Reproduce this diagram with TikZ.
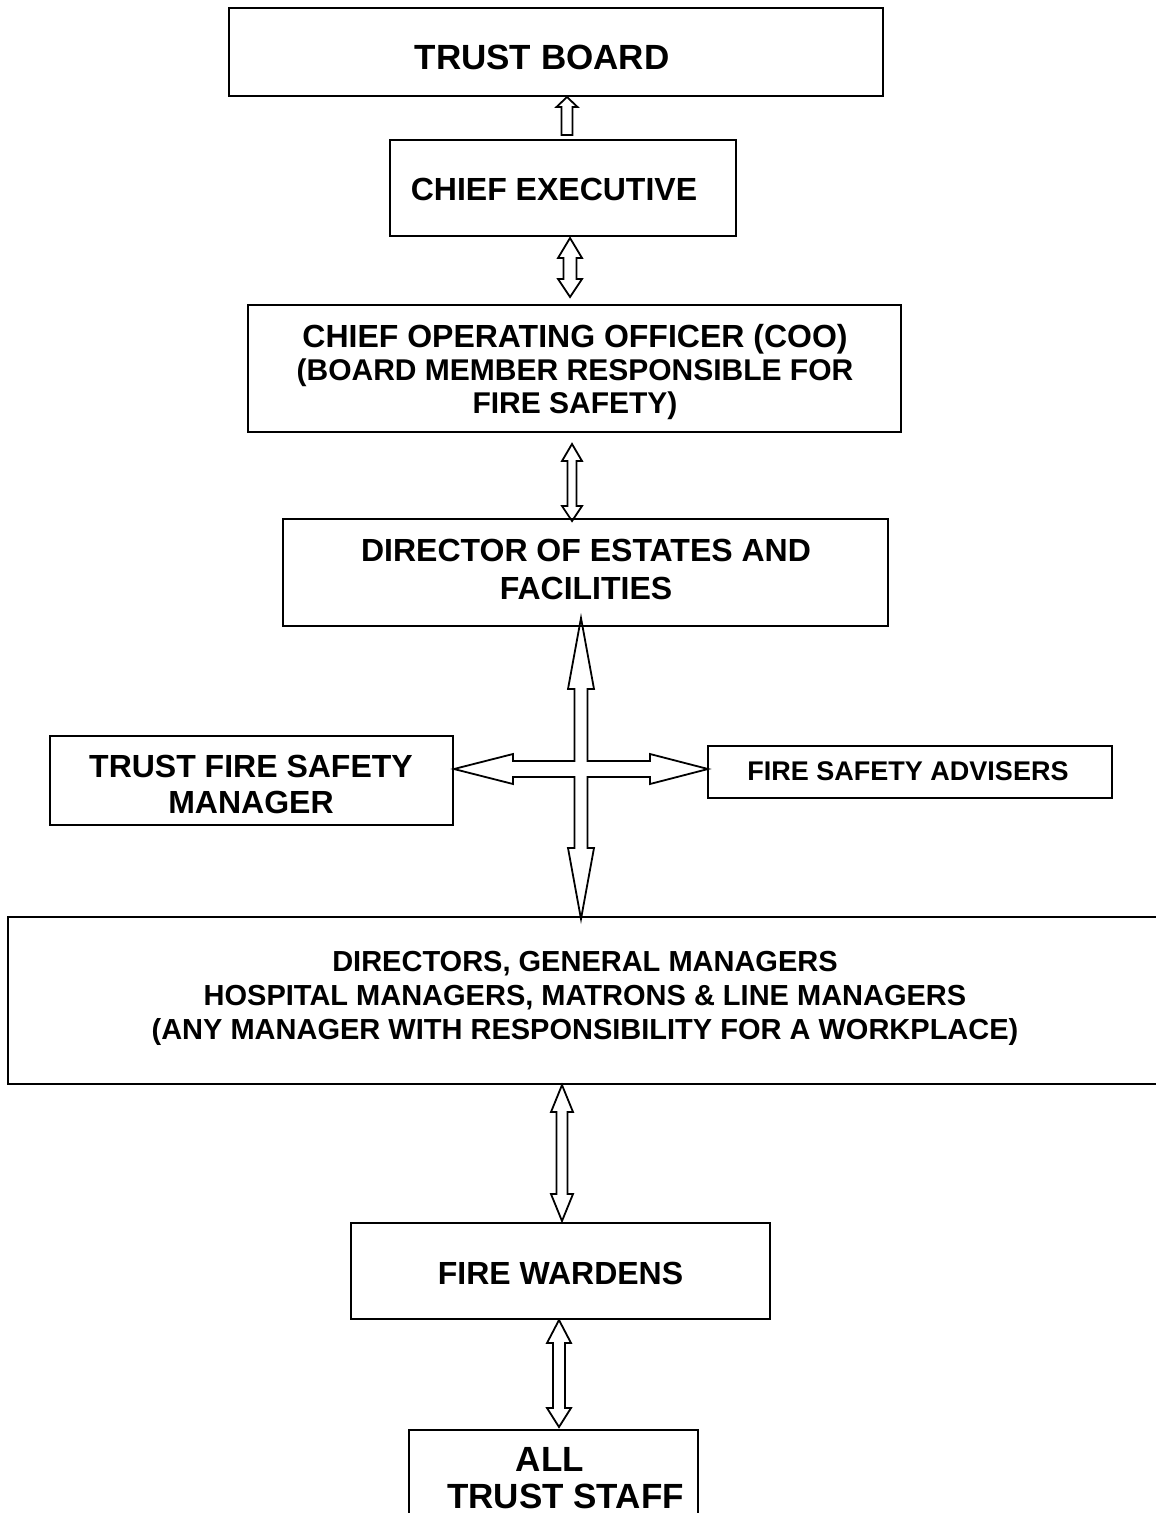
\documentclass[tikz,border=0pt]{standalone}
\usepackage{fontspec}
\setmainfont{Liberation Sans}
\usetikzlibrary{calc}
\tikzset{
  box/.style={draw, line width=2pt, inner sep=0pt, rectangle},
  lbl/.style={inner sep=0pt, align=center},
  arr/.style={draw, line width=1.8pt, line join=miter},
}
\newcommand\myfs[2]{\fontsize{#1}{#2}\selectfont\bfseries}
% vertical double block arrow: top tip, bottom tip, shaft half, head half, top head len, bottom head len
\newcommand\myvdbl[6]{%
  \draw[arr] let \p1=(#1), \p2=(#2) in
    (\x1,\y1) -- (\x1+#4pt,\y1-#5pt) -- (\x1+#3pt,\y1-#5pt) -- (\x1+#3pt,\y2+#6pt)
    -- (\x1+#4pt,\y2+#6pt) -- (\x1,\y2) -- (\x1-#4pt,\y2+#6pt) -- (\x1-#3pt,\y2+#6pt)
    -- (\x1-#3pt,\y1-#5pt) -- (\x1-#4pt,\y1-#5pt) -- cycle;}
% vertical single block arrow pointing up: top tip, bottom end, shaft half, head half, head len
\newcommand\myvup[5]{%
  \draw[arr] let \p1=(#1), \p2=(#2) in
    (\x1,\y1) -- (\x1+#4pt,\y1-#5pt) -- (\x1+#3pt,\y1-#5pt) -- (\x1+#3pt,\y2)
    -- (\x1-#3pt,\y2) -- (\x1-#3pt,\y1-#5pt) -- (\x1-#4pt,\y1-#5pt) -- cycle;}
\begin{document}
\begin{tikzpicture}[x=1pt,y=-1pt]
\useasboundingbox (0,0) rectangle (1156,1513);
\fill[white] (0,0) rectangle (1156,1513);
\begin{scope}
\clip (0,0) rectangle (1156,1513);
% boxes
\node[box, minimum width=654, minimum height=88] (tb) at (556,52) {};
\node[box, minimum width=346, minimum height=96] (ce) at (563,188) {};
\node[box, minimum width=653, minimum height=127] (coo) at (574.5,368.5) {};
\node[box, minimum width=605, minimum height=107] (dir) at (585.5,572.5) {};
\node[box, minimum width=403, minimum height=89] (tfsm) at (251.5,780.5) {};
\node[box, minimum width=404, minimum height=52] (fsa) at (910,772) {};
\node[box, minimum width=1154, minimum height=167] (big) at (585,1000.5) {};
\node[box, minimum width=419, minimum height=96] (fw) at (560.5,1271) {};
\node[box, minimum width=289, minimum height=130] (staff) at (553.5,1495) {};
% texts
\node[lbl, font=\myfs{35}{40}] (tbT) at (542,57) {TRUST BOARD};
\node[lbl, font=\myfs{32}{37}] (ceT) at (554,189) {CHIEF EXECUTIVE};
\node[lbl, font=\myfs{30}{33}] (cooT) at (575,372) {{\myfs{32}{33}CHIEF OPERATING OFFICER (COO)}\\(BOARD MEMBER RESPONSIBLE FOR\\FIRE SAFETY)};
\node[lbl, font=\myfs{32}{38}] (dirT) at (586,569) {DIRECTOR OF ESTATES AND\\FACILITIES};
\node[lbl, font=\myfs{32}{36}] (tfsmT) at (251,784) {TRUST FIRE SAFETY\\MANAGER};
\node[lbl, font=\myfs{27}{30}] (fsaT) at (908,771) {FIRE SAFETY ADVISERS};
\node[lbl, font=\myfs{29}{34}] (bigT) at (585,998) {DIRECTORS, GENERAL MANAGERS\\HOSPITAL MANAGERS, MATRONS \& LINE MANAGERS\\(ANY MANAGER WITH RESPONSIBILITY FOR A WORKPLACE)};
\node[lbl, font=\myfs{32}{37}] (fwT) at (560.5,1273) {FIRE WARDENS};
\node[lbl, font=\myfs{35}{40}] (staffA) at (550,1459) {ALL};
\node[lbl, font=\myfs{35}{40}] (staffB) at (565.5,1496) {TRUST STAFF};
% arrow end points
\coordinate (a1t) at ($(tb.south)+(11,0)$);
\coordinate (a1b) at ($(ce.north)+(4,-4)$);
\coordinate (a2t) at ($(ce.south)+(7,1)$);
\coordinate (a2b) at ($(coo.north)+(-4.5,-7)$);
\coordinate (a3t) at ($(coo.south)+(-2.5,11)$);
\coordinate (a3b) at ($(dir.north)+(-13.5,3)$);
\coordinate (a4t) at ($(big.south)+(-23,0)$);
\coordinate (a4b) at ($(fw.north)+(1.5,-1)$);
\coordinate (a5t) at ($(fw.south)+(-1.5,0)$);
\coordinate (a5b) at ($(staff.north)+(5.5,-2)$);
\coordinate (cT) at ($(dir.south)+(-4.5,-9)$);
\coordinate (cB) at ($(big.north)+(-4,3)$);
\coordinate (cL) at ($(tfsm.east)+(0,-11.5)$);
\coordinate (cR) at ($(fsa.west)+(1,-3)$);
% arrows
\myvup{a1t}{a1b}{5.5}{10.5}{10}
\myvdbl{a2t}{a2b}{6.5}{12}{20}{18}
\myvdbl{a3t}{a3b}{4.5}{10}{17}{15}
\myvdbl{a4t}{a4b}{5.5}{11}{27}{27}
\myvdbl{a5t}{a5b}{6}{12}{23}{19}
% cross arrow
\draw[arr] let \p1=(cT), \p2=(cB), \p3=(cL), \p4=(cR) in
  (\x1,\y1) -- (\x1+13pt,\y1-71pt) -- (\x1+6.5pt,\y1-71pt) -- (\x1+6.5pt,\y3+8pt)
  -- (\x4-58pt,\y3+8pt) -- (\x4-58pt,\y3+15pt) -- (\x4,\y3) -- (\x4-58pt,\y3-15pt)
  -- (\x4-58pt,\y3-8pt) -- (\x1+6.5pt,\y3-8pt) -- (\x1+6.5pt,\y2+71pt) -- (\x1+13pt,\y2+71pt)
  -- (\x1,\y2) -- (\x1-13pt,\y2+71pt) -- (\x1-6.5pt,\y2+71pt) -- (\x1-6.5pt,\y3-8pt)
  -- (\x3+59pt,\y3-8pt) -- (\x3+59pt,\y3-15pt) -- (\x3,\y3) -- (\x3+59pt,\y3+15pt)
  -- (\x3+59pt,\y3+8pt) -- (\x1-6.5pt,\y3+8pt) -- (\x1-6.5pt,\y1-71pt) -- (\x1-13pt,\y1-71pt) -- cycle;
\end{scope}
\end{tikzpicture}
\end{document}
